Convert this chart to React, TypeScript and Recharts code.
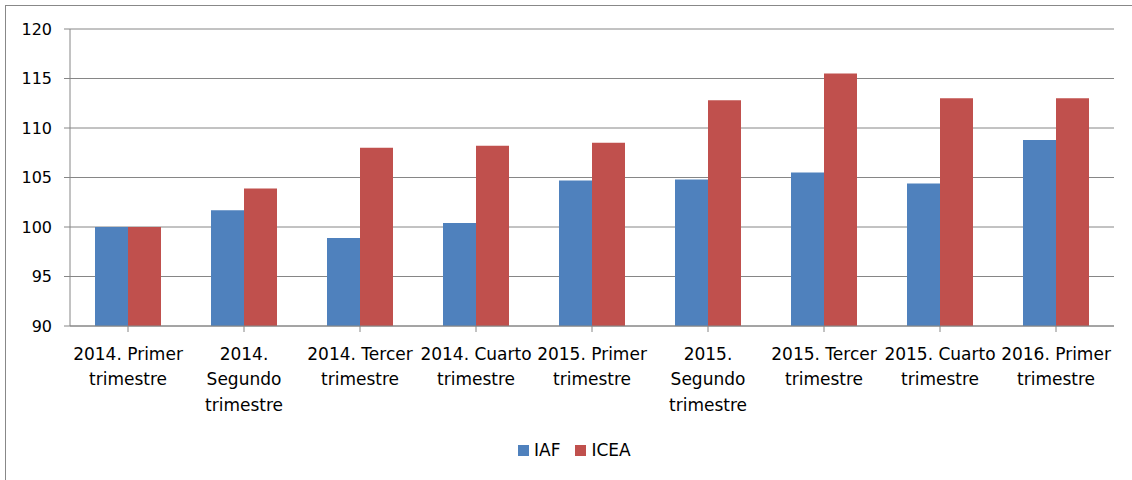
import React from "react";
import { BarChart, Bar, XAxis, YAxis, CartesianGrid, Legend } from "recharts";

const categories = [
  "2014. Primer trimestre",
  "2014. Segundo trimestre",
  "2014. Tercer trimestre",
  "2014. Cuarto trimestre",
  "2015. Primer trimestre",
  "2015. Segundo trimestre",
  "2015. Tercer trimestre",
  "2015. Cuarto trimestre",
  "2016. Primer trimestre",
];

const tickLines: string[][] = [
  ["2014. Primer", "trimestre"],
  ["2014.", "Segundo", "trimestre"],
  ["2014. Tercer", "trimestre"],
  ["2014. Cuarto", "trimestre"],
  ["2015. Primer", "trimestre"],
  ["2015.", "Segundo", "trimestre"],
  ["2015. Tercer", "trimestre"],
  ["2015. Cuarto", "trimestre"],
  ["2016. Primer", "trimestre"],
];

const iafValues = [100.0, 101.7, 98.9, 100.4, 104.7, 104.8, 105.5, 104.4, 108.8];
const iceaValues = [100.0, 103.9, 108.0, 108.2, 108.5, 112.8, 115.5, 113.0, 113.0];

const yTicks = [90, 95, 100, 105, 110, 115, 120];

const seriesNames = { iaf: "IAF", icea: "ICEA" };
const colors = { iaf: "#4F81BD", icea: "#C0504D" };

const data = categories.map((c, i) => ({
  category: c,
  IAF: iafValues[i],
  ICEA: iceaValues[i],
}));

const FONT = "'DejaVu Sans', sans-serif";
const GRID = "#868686";

const XTick = (props: any) => {
  const { x, y, payload } = props;
  const lines = tickLines[payload.index] || [String(payload.value)];
  return (
    <g>
      {lines.map((l, i) => (
        <text
          key={i}
          x={x}
          y={y + 19.5 + i * 25.5}
          dy="0.355em"
          textAnchor="middle"
          fontFamily={FONT}
          fontSize={17}
          fill="#000"
        >
          {l}
        </text>
      ))}
    </g>
  );
};

const LegendContent = () => (
  <div
    style={{
      position: "absolute",
      left: 518,
      top: 438,
      display: "flex",
      alignItems: "center",
      fontFamily: FONT,
      fontSize: 17,
      color: "#000",
      height: 24,
      whiteSpace: "nowrap",
    }}
  >
    <span style={{ display: "inline-block", width: 11, height: 11, background: colors.iaf, marginRight: 5 }} />
    <span style={{ marginRight: 15 }}>{seriesNames.iaf}</span>
    <span style={{ display: "inline-block", width: 11, height: 11, background: colors.icea, marginRight: 5 }} />
    <span>{seriesNames.icea}</span>
  </div>
);

export default function App() {
  return (
    <div style={{ position: "absolute", left: 0, top: 0, width: 1132, height: 480, background: "#fff", overflow: "hidden" }}>
      <div
        style={{
          position: "absolute",
          left: 5,
          top: 5,
          width: 1130,
          height: 480,
          border: "1px solid #888",
          boxSizing: "border-box",
        }}
      />
      <div style={{ position: "absolute", left: 0, top: 0 }}>
        <BarChart
          width={1132}
          height={480}
          data={data}
          margin={{ top: 29, right: 18, left: 0, bottom: 54 }}
          barGap={0}
        >
          <CartesianGrid vertical={false} stroke={GRID} strokeWidth={1} />
          <XAxis
            dataKey="category"
            height={100}
            interval={0}
            tick={<XTick />}
            tickSize={6}
            axisLine={{ stroke: GRID }}
            tickLine={{ stroke: GRID }}
          />
          <YAxis
            width={70}
            domain={[90, 120]}
            ticks={yTicks}
            interval={0}
            tickSize={6}
            tickMargin={12}
            axisLine={{ stroke: GRID }}
            tickLine={{ stroke: GRID }}
            tick={{ fontFamily: FONT, fontSize: 16, fill: "#000" }}
            allowDataOverflow
          />
          <Legend verticalAlign="middle" align="center" content={<LegendContent />} wrapperStyle={{ position: "absolute", left: 0, top: 0, width: 0, height: 0 }} />
          <Bar dataKey="IAF" name={seriesNames.iaf} fill={colors.iaf} barSize={33} isAnimationActive={false} />
          <Bar dataKey="ICEA" name={seriesNames.icea} fill={colors.icea} barSize={33} isAnimationActive={false} />
        </BarChart>
      </div>
    </div>
  );
}
